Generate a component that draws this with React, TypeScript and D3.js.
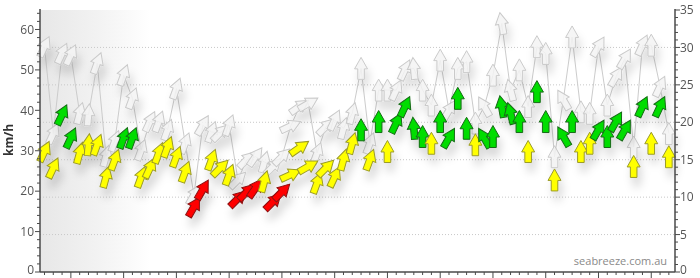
import React from "react";
import * as d3 from "d3";

// wind average (knots), one per time step
const avgKnots = [
  16.1, 13.9, 21.0, 17.9, 15.9, 17.0, 17.0, 12.7, 15.0, 17.9, 17.9, 12.7, 13.9, 15.9, 16.7, 15.4,
  13.4, 8.7, 11.0, 15.0, 13.9, 13.0, 9.8, 10.7, 11.2, 12.1, 9.4, 10.7, 13.0, 16.6, 14.1, 11.9,
  13.9, 12.7, 15.0, 17.2, 19.0, 15.0, 20.1, 16.1, 19.9, 22.1, 19.2, 18.1, 17.2, 20.1, 17.9, 23.2,
  19.2, 17.0, 17.9, 18.1, 22.1, 21.2, 20.1, 16.1, 24.1, 20.1, 12.3, 18.1, 20.1, 16.1, 17.2, 19.0,
  18.1, 20.1, 19.0, 14.1, 22.1, 17.2, 22.1, 15.4,
];
// wind gust (knots)
const gustKnots = [
  30.1, 18.5, 29.2, 29.0, 21.2, 21.0, 27.9, 15.5, 17.5, 26.3, 23.2, 16.3, 20.1, 20.1, 19.0, 24.5,
  17.2, 10.3, 19.6, 18.7, 18.6, 19.6, 12.3, 15.0, 15.4, 14.7, 14.1, 15.4, 19.5, 22.1, 22.5, 15.9,
  19.4, 20.3, 19.2, 21.2, 27.2, 17.2, 24.3, 24.3, 24.3, 27.0, 27.2, 24.3, 22.3, 28.3, 21.6, 27.2,
  28.1, 19.9, 22.1, 26.3, 33.2, 24.3, 27.0, 22.1, 30.1, 29.2, 15.4, 23.0, 31.4, 21.4, 21.2, 30.1,
  22.3, 26.1, 28.5, 16.7, 30.3, 30.3, 24.8, 18.5,
];
// arrow heading (degrees, 0 = pointing up)
const heading = [
  25, 25, 25, 25, 15, 5, 20, 15, 20, 20, 20, 20, 25, 20, 20, 20,
  20, 30, 30, 20, 45, 20, 45, 45, 35, 15, 45, 45, 65, 55, 60, 20,
  45, 25, 15, 15, 0, 20, 0, 0, 25, 25, -5, 0, 0, 0, 30, 0,
  0, 0, -30, 0, -10, -15, 0, 0, 0, 0, 0, -30, 0, 0, 0, 30,
  0, 30, 30, 0, 25, 0, 25, 0,
];
const knotTicks = [0, 5, 10, 15, 20, 25, 30, 35];
const kmhTicks = [0, 10, 20, 30, 40, 50, 60];
const gridKnots = [5, 10, 15, 20, 25, 30];
const yTitle = "km/h";
const watermark = "seabreeze.com.au";

const ARROW = "M0,-11 L6.5,0.5 L3.3,0.5 L3.3,11 L-3.3,11 L-3.3,0.5 L-6.5,0.5 Z";

function colorFor(k: number) {
  if (k < 11.5) return { fill: "#ff0000", stroke: "#8a1010" };
  if (k < 17.5) return { fill: "#ffff00", stroke: "#9a9a2a" };
  return { fill: "#00dd00", stroke: "#156a15" };
}

export default function App() {
  const left = 40, right = 675, top = 10, bottom = 272;
  const x = d3.scaleLinear().domain([-0.51, 71.7]).range([left, right]);
  const y = d3.scaleLinear().domain([0, 35]).range([bottom, top]);
  const yK = d3.scaleLinear().domain([0, 35 * 1.852]).range([bottom, top]);

  const line = d3.line<number>().x((_, i) => x(i)).y((d) => y(d));
  const minorX = d3.range(0, 72);
  const minorKmh = d3.range(0, 65, 2);
  const minorKn = d3.range(0, 36, 1);
  const font = "'Open Sans', 'DejaVu Sans', sans-serif";

  return (
    <svg width={700} height={278} style={{ position: "absolute", left: 0, top: 0 }} fontFamily={font}>
      <defs>
        <linearGradient id="bg" gradientUnits="userSpaceOnUse" x1={left} x2={150} y1={0} y2={0}>
          <stop offset="0" stopColor="#e7e7e7" />
          <stop offset="0.55" stopColor="#f3f3f3" />
          <stop offset="1" stopColor="#ffffff" />
        </linearGradient>
        <filter id="sh" x="-50%" y="-50%" width="200%" height="250%">
          <feDropShadow dx="3" dy="9" stdDeviation="4" floodColor="#000" floodOpacity="0.15" />
        </filter>
      </defs>
      <rect x={0} y={0} width={700} height={278} fill="#ffffff" />
      <rect x={left} y={top} width={right - left} height={bottom - top} fill="url(#bg)" />
      {gridKnots.map((k) => (
        <line key={k} x1={left} x2={right} y1={y(k)} y2={y(k)} stroke="#c8c8c8" strokeDasharray="1,2" />
      ))}
      <text x={667} y={265} textAnchor="end" fontSize={11} fill="#8a8a8a">{watermark}</text>

      <path d={line(gustKnots) || ""} fill="none" stroke="#cccccc" strokeWidth={1} />
      <g filter="url(#sh)">
        {gustKnots.map((g, i) => (
          <g key={i} transform={`translate(${x(i)},${y(g)})`}>
            <path d={ARROW} transform={`rotate(${heading[i]})`} fill="#f3f3f3" fillOpacity={0.85} stroke="#cacaca" strokeWidth={1} />
          </g>
        ))}
      </g>
      <g filter="url(#sh)">
        {avgKnots.map((a, i) => {
          const c = colorFor(a);
          return (
            <g key={i} transform={`translate(${x(i)},${y(a)})`}>
              <path d={ARROW} transform={`rotate(${heading[i]})`} fill={c.fill} stroke={c.stroke} strokeWidth={1} />
            </g>
          );
        })}
      </g>

      {/* axes */}
      <line x1={left} x2={left} y1={top - 1} y2={bottom} stroke="#4a4a4a" strokeWidth={1.5} />
      <line x1={right} x2={right} y1={top - 1} y2={bottom} stroke="#4a4a4a" strokeWidth={1.5} />
      <line x1={left} x2={right} y1={bottom} y2={bottom} stroke="#4a4a4a" strokeWidth={1.5} />
      {minorKmh.map((v) => (
        <line key={v} x1={left - (v % 10 === 0 ? 5 : 3)} x2={left} y1={yK(v)} y2={yK(v)} stroke="#4a4a4a" />
      ))}
      {minorKn.map((v) => (
        <line key={v} x1={right} x2={right + (v % 5 === 0 ? 5 : 3)} y1={y(v)} y2={y(v)} stroke="#4a4a4a" />
      ))}
      {minorX.map((v) => (
        <line key={v} x1={x(v)} x2={x(v)} y1={bottom} y2={bottom + (v % 6 === 3 ? 6 : 3)} stroke="#4a4a4a" />
      ))}
      {kmhTicks.map((v) => (
        <text key={v} x={34} y={Math.min(yK(v), 270)} dy="0.35em" textAnchor="end" fontSize={12} fill="#555">{v}</text>
      ))}
      {knotTicks.map((v) => (
        <text key={v} x={680} y={Math.min(y(v), 270)} dy="0.35em" textAnchor="start" fontSize={12} fill="#555">{v}</text>
      ))}
      <text transform={`translate(13,140) rotate(-90)`} textAnchor="middle" fontSize={12} fontWeight="bold" fill="#333">{yTitle}</text>
    </svg>
  );
}
